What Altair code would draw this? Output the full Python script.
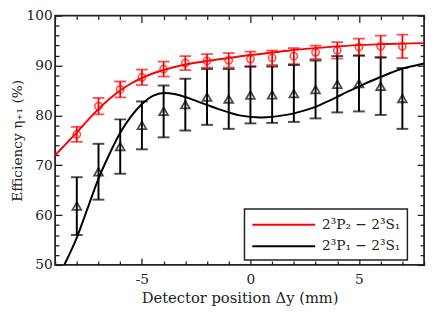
import altair as alt
import pandas as pd

# ---- data ----
positions = [-8, -7, -6, -5, -4, -3, -2, -1, 0, 1, 2, 3, 4, 5, 6, 7]
red_eff = [76.2, 81.85, 85.2, 87.65, 89.3, 90.5, 90.95, 91.05, 91.3, 91.55, 91.9, 92.65, 93.05, 93.7, 93.85, 93.85]
red_err = [1.5, 1.65, 1.6, 1.55, 1.5, 1.4, 1.35, 1.45, 1.5, 1.45, 1.6, 1.35, 1.65, 1.7, 2.15, 2.35]
black_eff = [61.8, 68.7, 73.75, 78.0, 80.8, 82.15, 83.7, 83.3, 84.1, 84.15, 84.4, 85.2, 86.25, 86.4, 85.85, 83.4]
black_err = [5.8, 5.6, 5.45, 4.8, 5.2, 5.2, 5.6, 6.0, 5.7, 5.65, 5.7, 5.8, 5.65, 5.6, 5.75, 6.1]

red_fit_x = [-9, -8.5, -8, -7.5, -7, -6.5, -6, -5.5, -5, -4.5, -4, -3, -2, -1, 0, 1, 2, 3, 4, 5, 6, 7, 8]
red_fit_y = [72.0, 74.3, 76.6, 79.0, 81.3, 83.3, 85.0, 86.4, 87.5, 88.4, 89.1, 90.2, 90.9, 91.5, 92.1, 92.6, 93.1, 93.5, 93.85, 94.1, 94.3, 94.4, 94.5]
black_fit_x = [-8.58, -8, -7.5, -7, -6.5, -6, -5.5, -5, -4.5, -4, -3.5, -3, -2.5, -2, -1.5, -1, -0.5, 0, 0.5, 1, 1.5, 2, 2.5, 3, 3.5, 4, 4.5, 5, 5.5, 6, 6.5, 7, 7.5, 8]
black_fit_y = [50.0, 55.5, 61.4, 67.3, 72.2, 76.5, 79.8, 82.3, 83.9, 84.5, 84.3, 83.7, 82.9, 82.1, 81.3, 80.6, 80.0, 79.7, 79.6, 79.7, 80.0, 80.4, 81.0, 81.7, 82.7, 83.7, 84.8, 85.8, 86.8, 87.7, 88.6, 89.4, 89.9, 90.4]

series_names = ["2³P₂ − 2³S₁", "2³P₁ − 2³S₁"]

x_major = [-5, 0, 5]
x_minor = [-9, -8, -7, -6, -4, -3, -2, -1, 1, 2, 3, 4, 6, 7, 8]
y_major = [50, 60, 70, 80, 90, 100]
y_minor = [52, 54, 56, 58, 62, 64, 66, 68, 72, 74, 76, 78, 82, 84, 86, 88, 92, 94, 96, 98]

# ---- tables ----
pts = pd.DataFrame({
    "x": positions,
    "red": red_eff,
    "red_lo": [v - e for v, e in zip(red_eff, red_err)],
    "red_hi": [v + e for v, e in zip(red_eff, red_err)],
    "black": black_eff,
    "black_lo": [v - e for v, e in zip(black_eff, black_err)],
    "black_hi": [v + e for v, e in zip(black_eff, black_err)],
})
curves = pd.concat([
    pd.DataFrame({"x": red_fit_x, "y": red_fit_y, "series": series_names[0]}),
    pd.DataFrame({"x": black_fit_x, "y": black_fit_y, "series": series_names[1]}),
])

FONT = "DejaVu Serif"
INK = "#222222"
W, H = 376, 254

xscale = alt.Scale(domain=[-9, 8], nice=False, zero=False)
yscale = alt.Scale(domain=[50, 100], nice=False, zero=False)


def tick_axis(orient, offset, values, size):
    return alt.Axis(orient=orient, offset=offset, values=values, tickSize=size,
                    labels=False, domain=False, grid=False, ticks=True,
                    tickColor=INK, tickWidth=1.3)


main_x = alt.Axis(orient="bottom", values=x_major, ticks=False, domain=False, grid=False,
                  labelFont=FONT, labelFontSize=14, labelColor=INK, labelPadding=8,
                  labelExpr="'' + datum.value",
                  titleFont=FONT, titleFontSize=15, titleFontWeight="normal",
                  titleColor=INK, titlePadding=4)
main_y = alt.Axis(orient="left", values=y_major, ticks=False, domain=False, grid=False,
                  labelFont=FONT, labelFontSize=14, labelColor=INK, labelPadding=3,
                  titleFont=FONT, titleFontSize=14, titleFontWeight="normal",
                  titleColor=INK, titlePadding=2)

lines = alt.Chart(curves).mark_line(strokeWidth=2, interpolate="monotone", clip=True).encode(
    x=alt.X("x:Q", scale=xscale, axis=main_x, title="Detector position Δy (mm)"),
    y=alt.Y("y:Q", scale=yscale, axis=main_y, title="Efficiency η₊₁ (%)"),
    color=alt.Color("series:N",
                    scale=alt.Scale(domain=series_names, range=["#ff0000", "#000000"]),
                    legend=alt.Legend(title=None, orient="none", legendX=193, legendY=197,
                                      symbolType="M-1,0H7", symbolSize=256, symbolStrokeWidth=2,
                                      labelFont=FONT, labelFontSize=14, labelColor=INK,
                                      labelOffset=54, rowPadding=6, padding=7,
                                      strokeColor=INK, fillColor="white")),
)

red_bars = alt.Chart(pts).mark_rule(color="#ff0000", strokeWidth=1.8).encode(
    x=alt.X("x:Q", scale=xscale, axis=tick_axis("top", -H, x_major, 7), title=None),
    y=alt.Y("red_lo:Q", scale=yscale, axis=tick_axis("right", -W, y_major, 7), title=None),
    y2="red_hi:Q",
)
red_cap_lo = alt.Chart(pts).mark_tick(color="#ff0000", orient="horizontal", size=12, thickness=1.8).encode(
    x=alt.X("x:Q", scale=xscale, axis=tick_axis("top", -H, x_minor, 4), title=None),
    y=alt.Y("red_lo:Q", scale=yscale, axis=tick_axis("right", -W, y_minor, 4), title=None),
)
red_cap_hi = alt.Chart(pts).mark_tick(color="#ff0000", orient="horizontal", size=12, thickness=1.8).encode(
    x=alt.X("x:Q", scale=xscale, axis=tick_axis("bottom", -H, x_major, 7), title=None),
    y=alt.Y("red_hi:Q", scale=yscale, axis=tick_axis("left", -W, y_major, 7), title=None),
)
red_pts = alt.Chart(pts).mark_point(shape="circle", color="#ff0000", size=55, strokeWidth=1.6, filled=False).encode(
    x=alt.X("x:Q", scale=xscale, axis=tick_axis("bottom", -H, x_minor, 4), title=None),
    y=alt.Y("red:Q", scale=yscale, axis=tick_axis("left", -W, y_minor, 4), title=None),
)
black_bars = alt.Chart(pts).mark_rule(color="#000000", strokeWidth=2).encode(
    x=alt.X("x:Q", scale=xscale, axis=None),
    y=alt.Y("black_lo:Q", scale=yscale, axis=None),
    y2="black_hi:Q",
)
black_cap_lo = alt.Chart(pts).mark_tick(color="#000000", orient="horizontal", size=12, thickness=2).encode(
    x=alt.X("x:Q", scale=xscale, axis=None),
    y=alt.Y("black_lo:Q", scale=yscale, axis=None),
)
black_cap_hi = alt.Chart(pts).mark_tick(color="#000000", orient="horizontal", size=12, thickness=2).encode(
    x=alt.X("x:Q", scale=xscale, axis=None),
    y=alt.Y("black_hi:Q", scale=yscale, axis=None),
)
black_pts = alt.Chart(pts).mark_point(shape="triangle-up", color="#000000", size=80, strokeWidth=1.8, filled=False).encode(
    x=alt.X("x:Q", scale=xscale, axis=None),
    y=alt.Y("black:Q", scale=yscale, axis=None),
)

chart = alt.layer(
    lines, red_bars, red_cap_lo, red_cap_hi, red_pts,
    black_bars, black_cap_lo, black_cap_hi, black_pts,
).resolve_axis(x="independent", y="independent").properties(
    width=W, height=H,
    autosize=alt.AutoSizeParams(type="none"),
    padding={"left": 48, "top": 5, "right": 4, "bottom": 40},
    background="white",
).configure_view(stroke=INK, strokeWidth=1.8).configure_legend(strokeWidth=1.5, cornerRadius=0)

chart.save("out.html", embed_options={"renderer": "svg", "actions": False})
